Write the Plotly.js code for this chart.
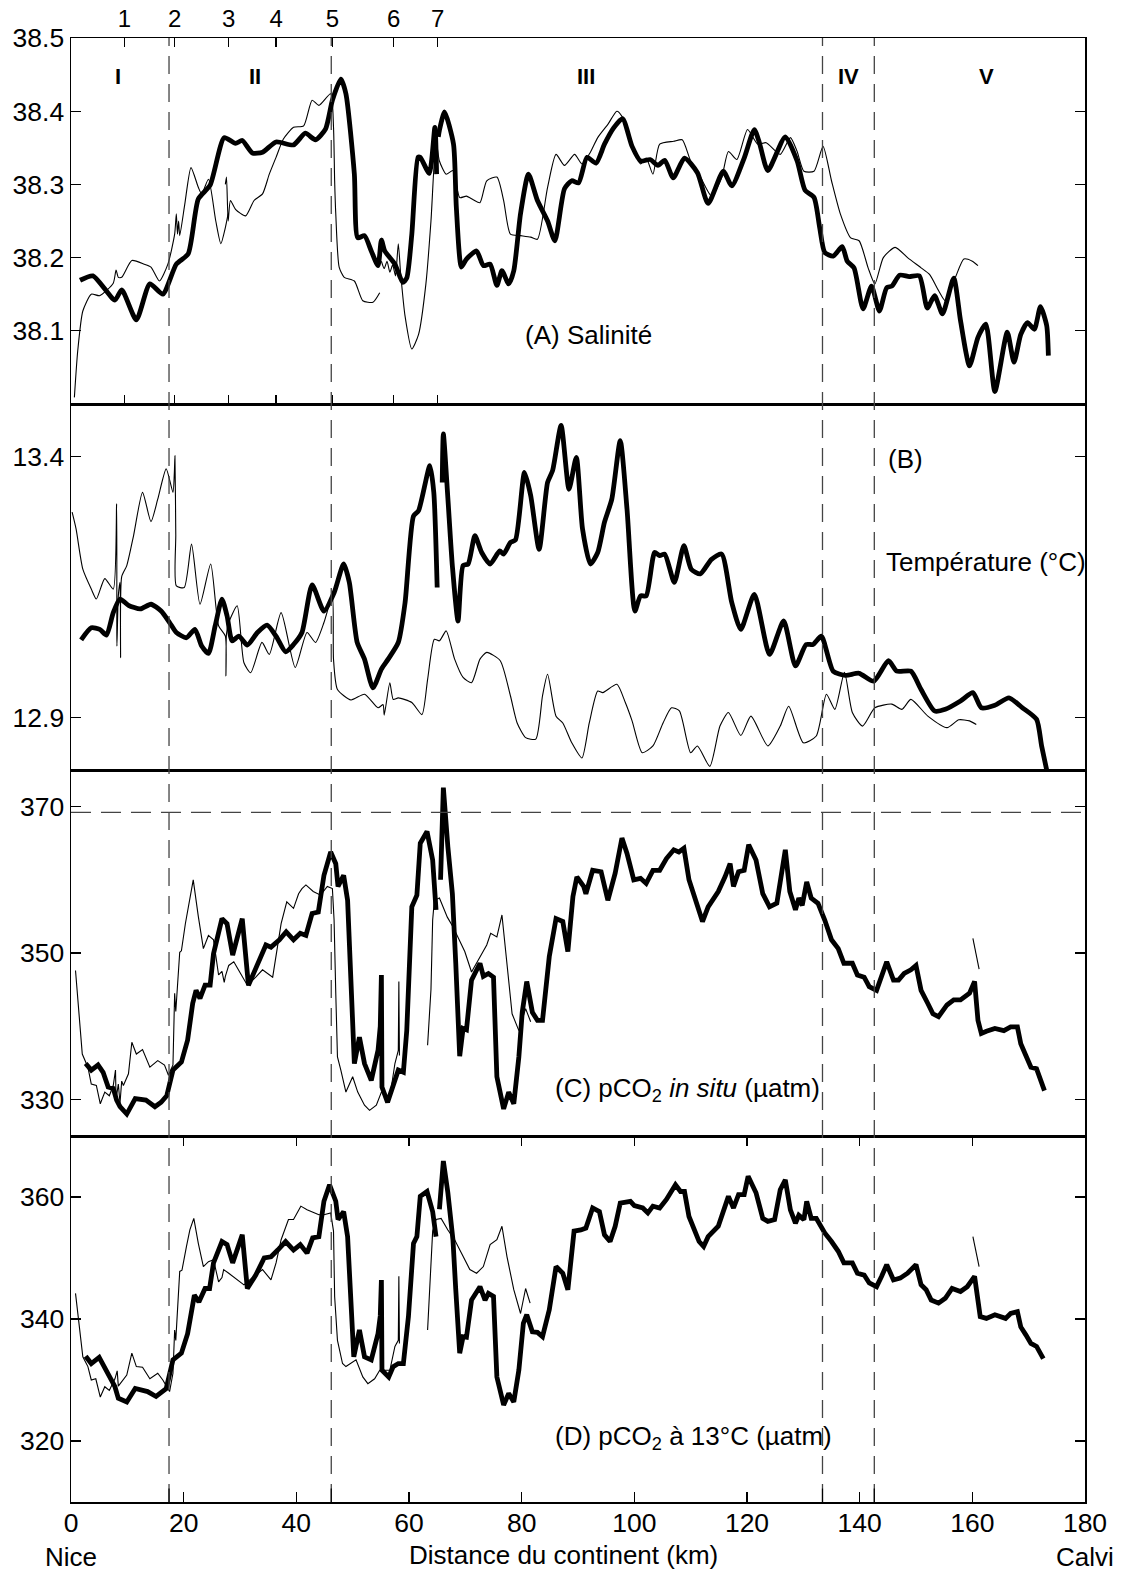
<!DOCTYPE html>
<html>
<head>
<meta charset="utf-8">
<script src="https://cdn.plot.ly/plotly-3.0.1.min.js"></script>
<style>html,body{margin:0;padding:0;background:#fff;}#chart{width:1125px;height:1573px;}</style>
</head>
<body>
<div id="chart"></div>
<script>
// ---- station / zone markers ----
const stationKm = [9.5, 18.4, 28.0, 36.4, 46.4, 57.3, 65.1];
const stationLabels = ['1','2','3','4','5','6','7'];
const zoneBoundsKm = [17.4, 46.2, 133.4, 142.6];
const zoneLabels = ['I','II','III','IV','V'];
const zoneCentersKm = [8.3, 32.7, 91.4, 138.0, 162.6];
const atmosphericCO2 = 369.2;

// ---- (A) salinity ----
const salThick = [[1.6,38.169],[3.9,38.175],[7.8,38.142],[9.0,38.156],[11.6,38.115],[14.0,38.164],[16.3,38.150],[18.7,38.191],[20.8,38.205],[22.6,38.280],[24.7,38.299],[27.2,38.364],[29.2,38.356],[30.4,38.360],[32.2,38.343],[34.0,38.344],[36.4,38.358],[39.5,38.354],[41.6,38.370],[43.4,38.361],[45.2,38.376],[46.4,38.415],[47.9,38.444],[48.8,38.424],[50.3,38.314],[50.9,38.227],[52.1,38.230],[53.3,38.209],[54.5,38.189],[55.1,38.224],[55.7,38.209],[57.5,38.191],[58.9,38.166],[59.6,38.172],[60.5,38.232],[61.6,38.337],[62.0,38.337],[63.6,38.315],[64.6,38.378],[64.9,38.314],null,[65.2,38.365],[65.4,38.374],[66.3,38.399],[67.9,38.355],[68.4,38.269],[69.3,38.187],[70.2,38.198],[72.0,38.209],[73.2,38.189],[74.4,38.191],[75.6,38.162],[76.5,38.182],[77.7,38.164],[78.6,38.182],[79.8,38.260],[81.2,38.314],[82.8,38.278],[84.6,38.250],[85.9,38.223],[87.6,38.294],[88.9,38.305],[90.1,38.302],[91.6,38.337],[93.2,38.329],[94.7,38.355],[96.3,38.377],[97.9,38.390],[99.6,38.352],[101.1,38.332],[102.8,38.334],[104.2,38.326],[105.4,38.333],[106.9,38.309],[108.9,38.336],[111.2,38.316],[113.1,38.274],[115.8,38.318],[117.3,38.298],[119.5,38.336],[121.3,38.375],[122.2,38.357],[123.7,38.319],[126.8,38.365],[128.9,38.332],[130.3,38.292],[131.9,38.282],[132.9,38.241],[133.8,38.207],[135.3,38.202],[136.9,38.215],[137.8,38.195],[139.0,38.186],[140.6,38.130],[142.1,38.161],[143.5,38.127],[144.8,38.159],[145.7,38.161],[147.1,38.176],[148.8,38.174],[150.6,38.175],[152.0,38.131],[153.3,38.148],[154.7,38.123],[156.7,38.172],[157.9,38.114],[159.5,38.052],[161.0,38.091],[162.4,38.109],[164.0,38.017],[166.2,38.098],[167.4,38.057],[168.6,38.095],[169.8,38.111],[171.0,38.102],[172.1,38.133],[173.2,38.107],[173.5,38.066]];
const salThin = [[0.6,38.009],[1.2,38.073],[2.1,38.127],[3.6,38.150],[5.1,38.148],[7.5,38.165],[8.0,38.183],[8.4,38.173],[9.0,38.173],[10.8,38.196],[13.0,38.191],[14.2,38.187],[15.7,38.168],[17.2,38.191],[18.4,38.232],[18.7,38.260],[18.9,38.232],[19.1,38.250],[19.3,38.230],[20.2,38.273],[21.3,38.323],[22.6,38.296],[23.2,38.287],[24.4,38.307],[25.7,38.250],[26.6,38.219],[27.4,38.241],[27.9,38.260],null,[27.4,38.300],[27.6,38.310],[27.9,38.250],[28.3,38.278],[29.2,38.266],[31.0,38.257],[32.5,38.278],[34.0,38.287],[35.2,38.314],[36.4,38.337],[37.7,38.362],[39.5,38.378],[41.3,38.380],[42.8,38.415],[44.0,38.408],[46.1,38.424],[46.6,38.378],[46.8,38.305],[47.0,38.260],[47.6,38.187],[48.5,38.173],[50.3,38.168],[51.8,38.141],[53.6,38.139],[54.8,38.152],null,[55.1,38.195],[55.6,38.185],[56.1,38.195],[56.6,38.180],[57.1,38.190],[57.6,38.175],[58.1,38.219],[58.5,38.180],[59.3,38.120],[60.5,38.075],[61.7,38.095],[63.0,38.164],[63.9,38.250],[64.8,38.360],[65.4,38.332],[66.6,38.314],[67.8,38.319],[69.0,38.282],[70.2,38.284],[71.4,38.279],[72.6,38.275],[73.8,38.305],[75.6,38.310],[76.8,38.278],[78.0,38.232],[79.8,38.230],[81.6,38.228],[82.8,38.225],[84.6,38.296],[86.1,38.341],[87.6,38.326],[89.4,38.341],[90.7,38.328],[92.2,38.344],[93.5,38.364],[95.3,38.382],[96.9,38.400],[97.8,38.393],[99.6,38.355],[101.1,38.328],[102.1,38.336],[103.3,38.314],[104.5,38.355],[107.0,38.359],[108.5,38.361],[110.0,38.332],[111.8,38.309],[113.7,38.284],[115.5,38.309],[116.7,38.345],[118.2,38.334],[120.1,38.375],[121.9,38.355],[123.4,38.357],[125.9,38.341],[127.7,38.364],[128.9,38.345],[130.1,38.318],[131.9,38.318],[133.5,38.352],[135.0,38.305],[136.6,38.259],[138.4,38.227],[139.9,38.223],[141.5,38.186],[142.7,38.164],[144.2,38.200],[146.3,38.214],[148.5,38.200],[150.9,38.186],[152.4,38.177],[154.0,38.155],[155.2,38.141],[157.0,38.173],[158.5,38.198],[160.0,38.195],[161.0,38.189]];

// ---- (B) temperature ----
const tempThick = [[1.8,13.049],[3.6,13.072],[5.1,13.069],[6.3,13.058],[7.5,13.101],[8.7,13.127],[10.2,13.115],[12.3,13.108],[14.2,13.117],[16.0,13.104],[17.5,13.082],[18.7,13.063],[20.5,13.053],[22.0,13.069],[23.2,13.037],[24.4,13.023],[25.6,13.076],[26.8,13.127],[27.7,13.095],[28.6,13.047],[29.8,13.056],[31.3,13.039],[33.1,13.063],[34.8,13.077],[36.4,13.056],[38.1,13.026],[39.5,13.040],[41.0,13.063],[42.8,13.154],[44.9,13.104],[46.7,13.139],[48.4,13.194],[49.4,13.159],[50.8,13.044],[52.1,13.012],[53.6,12.957],[55.1,12.993],[56.3,13.012],[58.1,13.044],[59.3,13.120],[60.8,13.286],[61.7,13.296],[63.7,13.382],[64.4,13.331],[65.0,13.149],null,[65.9,13.350],[66.1,13.443],[66.9,13.320],[67.7,13.190],[68.7,13.085],[69.6,13.191],[70.5,13.194],[71.7,13.248],[72.9,13.216],[74.4,13.194],[76.1,13.219],[76.8,13.213],[78.0,13.235],[78.9,13.240],[80.5,13.369],[81.6,13.325],[83.1,13.222],[84.6,13.350],[85.5,13.373],[87.0,13.459],[88.4,13.337],[89.7,13.398],[90.8,13.261],[92.2,13.194],[93.5,13.216],[94.7,13.274],[96.0,13.318],[97.5,13.430],[98.7,13.299],[100.1,13.104],[101.1,13.133],[102.1,13.133],[103.6,13.216],[104.5,13.210],[105.4,13.213],[107.1,13.159],[108.8,13.229],[110.1,13.184],[111.7,13.175],[113.7,13.203],[115.5,13.213],[117.3,13.120],[118.9,13.069],[121.3,13.136],[124.0,13.021],[126.5,13.085],[128.6,12.999],[130.5,13.040],[131.7,13.040],[133.2,13.056],[135.3,12.989],[137.5,12.981],[139.9,12.985],[142.5,12.970],[145.1,13.009],[146.6,12.989],[149.1,12.989],[150.9,12.954],[153.3,12.913],[155.2,12.916],[157.9,12.932],[160.1,12.948],[161.6,12.919],[164.0,12.924],[166.5,12.938],[168.9,12.919],[171.4,12.897],[172.3,12.846],[173.2,12.800]];
const tempThin = [[0.2,13.293],[0.9,13.261],[2.1,13.184],[3.6,13.146],[4.5,13.127],[6.0,13.166],[7.5,13.146],[8.1,13.309],[8.15,13.037],[8.4,13.133],[8.7,13.159],[8.8,13.015],[9.0,13.170],[9.9,13.191],[11.1,13.248],[12.7,13.331],[14.2,13.275],[15.4,13.318],[16.9,13.376],[18.1,13.331],[18.35,13.370],[18.45,13.401],[18.6,13.250],[18.7,13.152],[20.1,13.149],[21.4,13.232],[22.9,13.117],[24.8,13.194],[26.2,13.076],[27.4,13.056],[27.5,12.980],[27.6,13.060],[28.0,13.082],[29.5,13.114],[30.7,13.005],[31.9,12.986],[33.9,13.044],[35.2,13.021],[37.3,13.101],[39.8,12.996],[41.9,13.063],[43.4,13.044],[44.9,13.082],[46.4,13.133],[46.6,13.012],[47.3,12.954],[49.7,12.934],[52.1,12.945],[54.5,12.919],[55.4,12.925],[55.6,12.905],[56.6,12.967],[57.2,12.935],[58.1,12.938],[60.5,12.929],[62.3,12.906],[63.3,12.973],[64.5,13.050],[65.4,13.047],[66.6,13.066],[68.1,13.012],[69.6,12.977],[71.1,12.967],[72.6,13.012],[73.8,13.025],[76.2,13.009],[78.0,12.942],[79.2,12.890],[80.7,12.862],[82.5,12.859],[83.7,12.942],[84.6,12.983],[86.1,12.903],[87.3,12.890],[88.9,12.852],[90.7,12.823],[92.0,12.890],[93.5,12.951],[94.4,12.948],[96.9,12.964],[98.4,12.929],[99.6,12.894],[101.4,12.833],[103.3,12.846],[105.1,12.890],[106.6,12.919],[108.0,12.913],[110.0,12.833],[111.2,12.846],[113.4,12.807],[115.2,12.884],[116.7,12.910],[118.9,12.866],[120.7,12.903],[123.7,12.846],[125.9,12.884],[127.4,12.922],[130.0,12.852],[132.3,12.865],[134.1,12.945],[135.6,12.916],[137.3,12.987],[138.7,12.910],[140.5,12.884],[142.7,12.919],[145.7,12.926],[147.5,12.916],[149.1,12.935],[152.1,12.903],[155.5,12.881],[157.6,12.896],[159.5,12.894],[160.7,12.887]];

// ---- (C) pCO2 in situ ----
const pco2Thick = [[2.6,334.9],[3.6,334.0],[4.8,334.7],[5.7,333.7],[6.6,331.7],[7.5,331.5],[8.1,329.9],[8.7,329.0],[9.9,328.0],[11.4,330.1],[13.3,329.9],[14.9,329.0],[16.0,329.6],[17.0,330.5],[18.1,334.0],[19.6,335.1],[20.7,338.1],[21.6,343.1],[22.2,344.9],[22.9,343.8],[23.8,345.6],[24.7,345.6],[25.3,349.9],[26.8,354.7],[27.7,354.0],[28.7,349.7],[30.4,354.7],[31.5,345.6],[32.8,347.9],[34.6,351.1],[35.5,350.8],[37.0,351.8],[38.2,352.9],[39.5,351.8],[40.7,352.7],[41.7,352.4],[42.8,355.4],[43.9,355.6],[44.9,360.6],[46.1,363.8],[47.0,362.2],[47.4,359.1],[48.4,360.6],[49.1,357.2],[50.3,334.9],[51.2,338.5],[52.1,334.9],[53.3,332.6],[54.5,336.7],[54.9,340.0],[55.1,347.0],[55.2,331.7],[56.2,329.6],[57.2,332.1],[58.1,334.0],[59.0,333.7],[59.6,339.4],[60.5,356.3],[61.4,357.9],[62.0,365.0],[63.2,366.6],[64.2,362.7],[64.8,355.9],null,[65.6,360.0],[66.1,372.6],[66.9,364.5],[67.7,358.1],[68.3,348.6],[69.0,335.9],[69.6,339.7],[70.2,339.5],[71.1,346.3],[72.6,348.6],[73.2,346.8],[74.1,347.2],[75.0,346.7],[75.6,333.1],[76.8,328.7],[77.7,331.0],[78.6,329.4],[79.5,335.8],[80.1,341.9],[80.9,346.1],[81.9,341.9],[82.8,340.8],[83.7,340.8],[84.9,349.5],[86.1,354.7],[87.3,354.3],[88.2,350.2],[89.1,357.7],[89.8,360.4],[91.0,359.1],[91.4,358.1],[92.6,361.3],[94.1,361.1],[95.3,357.2],[96.6,360.9],[97.8,365.7],[98.7,363.6],[99.9,360.0],[101.1,360.2],[102.1,359.5],[103.3,361.3],[104.5,361.3],[105.7,362.9],[107.0,364.1],[107.9,363.8],[108.8,364.3],[109.7,360.0],[110.6,357.9],[111.5,355.4],[112.1,354.3],[113.1,356.3],[114.9,358.4],[116.1,360.4],[117.0,362.2],[117.6,359.1],[118.5,361.1],[119.5,361.3],[120.3,364.8],[121.6,362.7],[122.8,358.1],[124.0,356.3],[125.3,356.8],[126.8,364.1],[127.6,358.4],[128.6,355.9],[129.2,357.5],[129.8,356.5],[130.6,359.7],[131.4,357.5],[132.6,356.8],[133.8,354.5],[135.0,351.8],[136.2,350.6],[137.2,348.6],[138.7,348.6],[139.6,347.0],[140.8,346.7],[141.7,345.4],[143.0,344.9],[143.9,346.7],[144.8,348.8],[146.0,346.3],[146.9,346.3],[147.9,347.2],[149.1,347.7],[150.0,348.3],[150.9,344.9],[152.1,343.1],[153.0,341.7],[154.0,341.3],[155.5,342.9],[156.7,343.6],[157.9,343.6],[159.5,344.5],[160.4,346.1],[161.0,340.8],[161.6,339.0],[162.5,339.3],[164.0,339.7],[165.6,339.4],[166.8,339.9],[168.0,339.9],[168.6,337.6],[169.5,336.0],[170.4,334.4],[171.4,334.2],[172.8,331.2]];
const pco2Thin = [[0.8,347.6],[1.4,341.7],[2.0,336.2],[3.0,334.4],[3.6,332.1],[4.5,331.9],[5.2,329.4],[6.0,331.0],[6.8,330.5],[7.5,331.9],[7.9,334.0],[8.0,330.0],[8.4,332.1],[8.7,329.5],[9.0,332.5],[9.3,331.9],[10.2,333.5],[10.8,337.8],[11.6,336.2],[12.7,336.8],[14.0,334.4],[15.4,335.3],[16.6,334.7],[17.3,333.3],[18.1,334.7],[18.4,344.5],[18.6,342.0],[19.3,350.1],[19.6,350.3],[20.3,354.0],[20.9,356.8],[21.7,360.0],[22.6,355.0],[23.5,350.6],[24.4,352.4],[25.3,351.8],[26.2,347.0],[26.8,347.5],[27.2,346.0],[27.4,346.8],[28.0,348.3],[28.9,348.8],[30.1,347.2],[31.3,345.6],[32.8,346.7],[34.0,347.7],[35.8,346.7],[36.4,349.9],[37.3,354.0],[38.3,357.0],[39.5,356.1],[40.4,358.1],[41.0,358.8],[41.7,359.3],[43.0,358.4],[44.3,357.9],[45.5,359.1],[46.4,358.8],[46.7,354.5],[47.0,344.5],[47.3,335.8],[47.9,334.0],[48.8,331.0],[50.0,333.1],[50.9,331.0],[52.1,329.2],[53.0,328.5],[54.2,329.2],[55.1,331.0],[55.8,330.6],[56.6,330.3],[57.5,334.9],[58.1,336.7],[58.2,346.1],[58.3,336.0],null,[63.3,337.4],[63.9,345.0],[64.2,354.5],[64.5,357.2],[65.4,357.5],[66.8,354.9],[67.8,353.6],[68.7,352.2],[69.9,350.2],[71.1,347.4],[72.3,349.0],[73.8,351.1],[74.5,352.7],[75.6,352.2],[76.5,355.2],[77.3,349.5],[78.3,341.7],[79.5,339.4],[80.7,342.4],[81.6,340.6],null,[160.1,352.0],[161.2,347.8]];

// ---- (D) pCO2 at 13 °C ----
const pco213Thick = [[2.6,333.9],[3.6,332.7],[5.0,333.7],[6.1,331.9],[6.9,330.2],[7.8,328.9],[8.4,327.0],[9.9,326.4],[11.4,328.6],[13.6,328.1],[15.1,327.3],[16.9,328.6],[18.1,333.3],[19.6,334.4],[20.7,337.6],[21.9,343.9],[22.7,342.8],[23.8,345.0],[24.6,345.0],[25.3,349.2],[26.8,352.7],[27.7,352.2],[28.7,349.2],[30.4,353.8],[31.3,345.0],[32.8,347.2],[34.3,350.0],[35.5,350.2],[36.7,351.3],[38.1,352.7],[39.5,351.3],[40.7,352.2],[41.9,350.8],[42.9,353.3],[44.0,353.5],[44.9,359.3],[45.9,362.0],[47.0,359.3],[47.4,356.3],[48.4,357.6],[49.1,353.5],[50.2,333.8],[51.2,338.2],[52.1,333.8],[53.3,333.3],[54.5,337.6],[54.9,340.5],[55.1,346.4],[55.2,331.6],[56.4,330.5],[57.2,332.2],[58.1,332.7],[59.0,332.7],[59.9,340.4],[60.8,352.4],[61.4,353.5],[62.0,360.1],[63.2,360.9],[64.2,357.6],[64.8,353.5],null,[65.4,358.0],[66.1,365.9],[66.9,360.7],[67.8,353.0],[68.3,344.8],[69.0,334.4],[69.6,337.1],[70.2,337.0],[71.1,343.1],[72.6,345.3],[73.5,343.1],[74.1,344.2],[75.0,343.7],[75.6,330.5],[76.8,325.9],[77.7,327.8],[78.6,326.4],[79.5,331.6],[80.3,339.3],[80.9,340.7],[81.9,337.9],[82.8,337.8],[83.7,337.1],[84.9,341.5],[86.1,348.6],[87.3,347.5],[88.2,344.8],[89.3,354.4],[90.5,354.6],[91.4,354.9],[92.6,358.2],[93.8,357.6],[94.7,353.8],[95.7,352.7],[96.6,355.2],[97.5,359.0],[99.3,359.3],[100.0,358.6],[101.5,358.2],[102.4,357.4],[103.3,358.5],[104.5,358.2],[105.7,359.6],[107.3,362.0],[108.2,360.9],[108.9,360.9],[109.7,356.8],[110.6,354.9],[111.5,352.7],[112.3,351.9],[113.1,353.5],[114.9,355.2],[115.8,357.9],[116.7,360.1],[117.6,358.2],[118.5,360.4],[119.5,360.4],[120.2,363.4],[121.6,360.7],[122.8,356.5],[123.7,356.0],[124.9,356.3],[125.9,361.2],[126.8,362.8],[127.7,357.9],[128.6,355.7],[129.2,357.0],[130.1,356.3],[130.6,359.3],[131.4,356.5],[132.3,356.5],[133.8,354.1],[135.0,352.7],[136.2,351.1],[137.2,349.2],[138.7,349.2],[139.6,347.5],[140.8,347.2],[141.7,345.9],[143.0,345.3],[143.9,347.0],[144.8,348.9],[146.0,346.4],[147.2,346.7],[148.5,347.5],[150.0,348.9],[150.9,345.6],[151.8,344.8],[152.7,343.1],[154.0,342.6],[155.2,343.4],[156.4,345.0],[157.9,344.5],[159.1,345.3],[160.4,347.0],[161.0,343.1],[161.4,340.4],[162.5,340.1],[164.0,340.7],[165.9,340.1],[166.8,340.9],[168.0,341.2],[168.6,338.7],[169.5,337.4],[170.4,336.0],[171.4,335.5],[172.6,333.5]];
const pco213Thin = [[0.8,344.2],[1.4,339.3],[2.1,333.8],[3.0,332.2],[3.6,330.0],[4.4,330.2],[5.2,327.2],[6.0,328.9],[6.8,328.3],[7.8,330.2],[8.2,331.5],[8.4,329.0],[9.3,330.2],[9.9,330.8],[10.8,334.4],[11.6,332.2],[12.7,332.1],[14.0,330.2],[15.4,331.1],[16.3,330.0],[17.5,328.1],[18.1,331.1],[18.4,338.2],[18.6,336.5],[19.3,347.8],[19.7,348.0],[20.5,351.9],[21.1,354.6],[21.8,356.5],[22.6,352.4],[23.5,348.6],[24.4,349.4],[25.3,349.7],[26.2,346.1],[26.8,346.8],[27.1,348.1],[28.0,347.5],[29.2,346.7],[30.7,345.6],[32.5,347.0],[34.0,348.1],[35.5,346.4],[36.4,349.2],[37.3,353.0],[38.6,356.3],[39.5,356.3],[40.8,358.5],[41.9,357.9],[42.8,357.6],[44.0,357.1],[44.9,357.1],[46.1,357.4],[46.6,354.4],[46.8,343.7],[47.3,336.5],[48.2,332.7],[48.8,332.2],[49.6,332.7],[50.6,333.3],[51.8,330.5],[52.7,329.4],[53.9,330.2],[54.8,331.6],[56.6,331.6],[57.5,335.5],[58.1,336.5],[58.2,347.0],[58.3,336.0],null,[63.3,338.2],[64.2,354.4],[64.8,356.3],[65.7,356.5],[66.9,354.6],[68.1,353.0],[69.3,350.8],[70.8,348.1],[72.0,347.5],[73.2,348.6],[74.4,352.2],[75.6,353.0],[76.5,355.2],[77.4,350.2],[78.6,344.8],[79.8,340.9],[80.7,345.0],[81.5,342.6],null,[160.1,353.5],[161.2,348.6]];

// ---- tick values ----
const salTicks = [38.1, 38.2, 38.3, 38.4, 38.5];
const tempTicks = [12.9, 13.4];
const pco2Ticks = [330, 350, 370];
const pco213Ticks = [320, 340, 360];
const kmTicks = [0, 20, 40, 60, 80, 100, 120, 140, 160, 180];

// ---------------------------------------------------------------
const FONT = 'Liberation Sans, Arial, Helvetica, sans-serif';
const TICK = 26.5;
function xs(p){ return p.map(v => v ? v[0] : null); }
function ys(p){ return p.map(v => v ? v[1] : null); }
function tr(p, ax, thick, smooth){
  return {type:'scatter', mode:'lines', x: xs(p), y: ys(p), xaxis: 'x'+(ax===1?'':ax), yaxis: 'y'+(ax===1?'':ax),
    line:{color:'#000', width: thick ? 4.8 : 1.1, shape: smooth ? 'spline' : 'linear', smoothing: 0.6},
    connectgaps:false, hoverinfo:'skip'};
}
const data = [
  tr(salThin,1,false,true), tr(salThick,1,true,true),
  tr(tempThin,2,false,true), tr(tempThick,2,true,true),
  tr(pco2Thin,3,false,false), tr(pco2Thick,3,true,false),
  tr(pco213Thin,4,false,false), tr(pco213Thick,4,true,false)
];

const baseAx = {showgrid:false, zeroline:false, showline:true, linecolor:'#000', linewidth:1.5,
  tickcolor:'#000', tickwidth:1.2, ticklen:10, ticks:'inside', mirror:'ticks',
  tickfont:{family:FONT, size:TICK, color:'#000'}};

const layout = {
  width:1125, height:1573, showlegend:false,
  paper_bgcolor:'#fff', plot_bgcolor:'#fff',
  margin:{l:71, r:40, t:38, b:71, pad:0},
  font:{family:FONT, size:TICK, color:'#000'},
  xaxis: Object.assign({}, baseAx, {domain:[0,1], anchor:'y', range:[0,180], side:'top',
    tickmode:'array', tickvals:stationKm, ticktext:stationLabels, ticklen:9,
    tickfont:{family:FONT, size:24, color:'#000'}}),
  xaxis2: Object.assign({}, baseAx, {domain:[0,1], anchor:'y2', range:[0,180], ticks:'', showticklabels:false, mirror:true}),
  xaxis3: Object.assign({}, baseAx, {domain:[0,1], anchor:'y3', range:[0,180], ticks:'', showticklabels:false, mirror:true}),
  xaxis4: Object.assign({}, baseAx, {domain:[0,1], anchor:'y4', range:[0,180], tickmode:'array', tickvals:kmTicks, ticktext:kmTicks.map(String), ticklabelstandoff:-3}),
  yaxis: Object.assign({}, baseAx, {domain:[0.75,1], anchor:'x', range:[37.9999,38.5001], tickmode:'array', tickvals:salTicks, ticktext:salTicks.map(v=>v.toFixed(1))}),
  yaxis2: Object.assign({}, baseAx, {domain:[0.5,0.75], anchor:'x2', range:[12.8,13.5], tickmode:'array', tickvals:tempTicks, ticktext:tempTicks.map(v=>v.toFixed(1))}),
  yaxis3: Object.assign({}, baseAx, {domain:[0.25,0.5], anchor:'x3', range:[325,375], tickmode:'array', tickvals:pco2Ticks, ticktext:pco2Ticks.map(String)}),
  yaxis4: Object.assign({}, baseAx, {domain:[0,0.25], anchor:'x4', range:[310,370], tickmode:'array', tickvals:pco213Ticks, ticktext:pco213Ticks.map(String)}),
  shapes: [],
  annotations: []
};

zoneBoundsKm.forEach(k => {
  layout.shapes.push({type:'line', xref:'x', yref:'paper', x0:k, x1:k, y0:0, y1:1,
    line:{color:'#444', width:1.3, dash:'18px,10px'}, layer:'above'});
  // solid tick mark where each zone boundary meets the bottom axis
  layout.shapes.push({type:'line', xref:'x4', yref:'y4', x0:k, x1:k, y0:310, y1:312.2,
    line:{color:'#000', width:1.2}, layer:'above'});
});
layout.shapes.push({type:'line', xref:'paper', yref:'y3', x0:0, x1:1, y0:atmosphericCO2, y1:atmosphericCO2,
  line:{color:'#444', width:1.3, dash:'20px,10px'}, layer:'above'});

zoneLabels.forEach((t,i) => layout.annotations.push({xref:'x', yref:'y', x:zoneCentersKm[i], y:38.447,
  text:'<b>'+t+'</b>', showarrow:false, font:{family:FONT, size:22, color:'#000'}, xanchor:'center', yanchor:'middle'}));

function ann(xr, yr, x, y, text, xa, extra){
  layout.annotations.push(Object.assign({xref:xr, yref:yr, x:x, y:y, text:text, showarrow:false,
    font:{family:FONT, size:26, color:'#000'}, xanchor:xa||'center', yanchor:'middle'}, extra||{}));
}
ann('x','y', 91.85, 38.094, '(A) Salinité');
ann('x2','y2', 148.2, 13.394, '(B)');
ann('x2','y2', 180, 13.197, 'Température (°C)', 'right', {xshift:3});
ann('x3','y3', 85.5, 331.3, '(C) pCO<sub>2</sub> <i>in situ</i> (µatm)', 'left');
ann('x4','y4', 85.5, 320.6, '(D) pCO<sub>2</sub> à 13°C (µatm)', 'left');
ann('x4','paper', 87.5, -0.0362, 'Distance du continent (km)');
ann('x4','paper', 0, -0.0378, 'Nice');
ann('x4','paper', 180, -0.0378, 'Calvi');

Plotly.newPlot('chart', data, layout, {displayModeBar:false, staticPlot:true});
</script>
</body>
</html>
